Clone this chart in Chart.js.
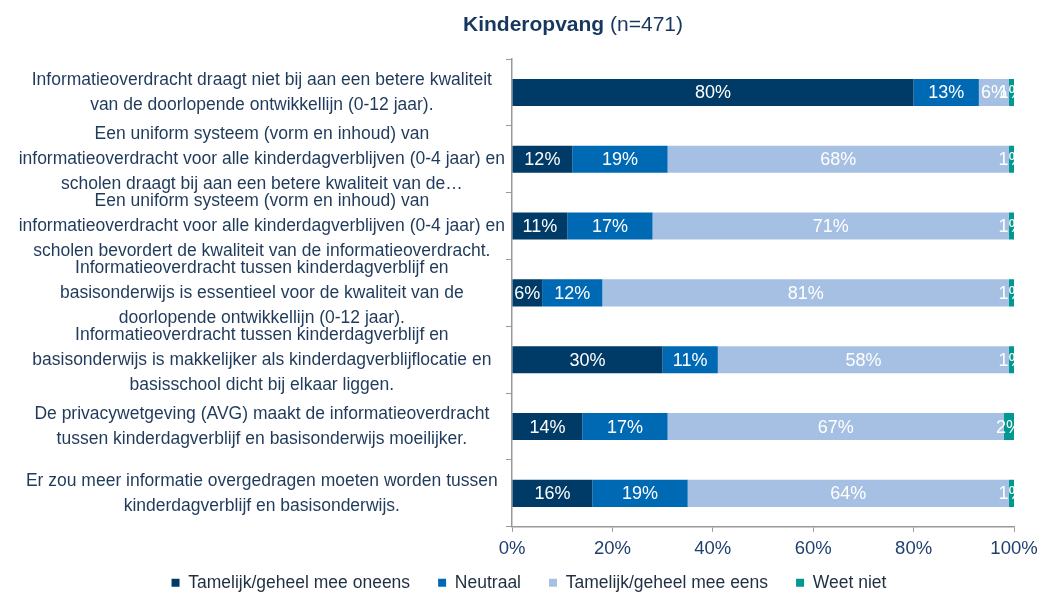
<!DOCTYPE html>
<html>
<head>
<meta charset="utf-8">
<script src="https://cdn.jsdelivr.net/npm/chart.js@4"></script>
<style>
  html, body { margin: 0; padding: 0; background: #fff; overflow: hidden; }
  #wrap { width: 1039px; height: 592px; position: relative; }
</style>
</head>
<body>
<div id="wrap"><canvas id="chart" width="1039" height="592"></canvas></div>
<script>
// categories (statements)
var categories = [
    ['Informatieoverdracht draagt niet bij aan een betere kwaliteit', 'van de doorlopende ontwikkellijn (0-12 jaar).'],
    ['Een uniform systeem (vorm en inhoud) van', 'informatieoverdracht voor alle kinderdagverblijven (0-4 jaar) en', 'scholen draagt bij aan een betere kwaliteit van de\u2026'],
    ['Een uniform systeem (vorm en inhoud) van', 'informatieoverdracht voor alle kinderdagverblijven (0-4 jaar) en', 'scholen bevordert de kwaliteit van de informatieoverdracht.'],
    ['Informatieoverdracht tussen kinderdagverblijf en', 'basisonderwijs is essentieel voor de kwaliteit van de', 'doorlopende ontwikkellijn (0-12 jaar).'],
    ['Informatieoverdracht tussen kinderdagverblijf en', 'basisonderwijs is makkelijker als kinderdagverblijflocatie en', 'basisschool dicht bij elkaar liggen.'],
    ['De privacywetgeving (AVG) maakt de informatieoverdracht', 'tussen kinderdagverblijf en basisonderwijs moeilijker.'],
    ['Er zou meer informatie overgedragen moeten worden tussen', 'kinderdagverblijf en basisonderwijs.']
];

// series values (%)
var oneens = [80, 12, 11, 6, 30, 14, 16];
var neutraal = [13, 19, 17, 12, 11, 17, 19];
var eens = [6, 68, 71, 81, 58, 67, 64];
var weetNiet = [1, 1, 1, 1, 1, 2, 1];

var seriesNames = ['Tamelijk/geheel mee oneens', 'Neutraal', 'Tamelijk/geheel mee eens', 'Weet niet'];
var xTicks = [0, 20, 40, 60, 80, 100];

var FONT = '"Liberation Sans", Arial, sans-serif';

// white value labels centred in each segment, clipped to the plot area
var barLabels = {
    id: 'barLabels',
    afterDatasetsDraw: function (chart) {
        var ctx = chart.ctx;
        var area = chart.chartArea;
        ctx.save();
        ctx.beginPath();
        ctx.rect(area.left, area.top, area.right - area.left, area.bottom - area.top);
        ctx.clip();
        ctx.fillStyle = '#ffffff';
        ctx.font = '18px ' + FONT;
        ctx.textAlign = 'center';
        ctx.textBaseline = 'middle';
        chart.data.datasets.forEach(function (ds, i) {
            var meta = chart.getDatasetMeta(i);
            meta.data.forEach(function (bar, j) {
                var cx = (bar.x + bar.base) / 2;
                ctx.fillText(ds.data[j] + '%', cx, bar.y + 1);
            });
        });
        ctx.restore();
    }
};

// two-part title: bold name + normal count
var titlePlugin = {
    id: 'titlePlugin',
    afterDraw: function (chart) {
        var ctx = chart.ctx;
        ctx.save();
        ctx.fillStyle = '#17375e';
        ctx.textBaseline = 'middle';
        var bold = 'bold 21px ' + FONT;
        var normal = '21px ' + FONT;
        ctx.font = bold;
        var w1 = ctx.measureText('Kinderopvang').width;
        ctx.font = normal;
        var w2 = ctx.measureText(' (n=471)').width;
        var x = 573 - (w1 + w2) / 2;
        ctx.font = bold;
        ctx.textAlign = 'left';
        ctx.fillText('Kinderopvang', x, 25);
        ctx.font = normal;
        ctx.fillText(' (n=471)', x + w1, 25);
        ctx.restore();
    }
};

// nudge the legend row up and a bit to the right (bottom kept so nothing is clipped)
var legendShift = {
    id: 'legendShift',
    afterLayout: function (chart) {
        chart.legend.top -= 20;
        chart.legend.left += 22;
        chart.legend.right += 22;
    }
};

var ctx = document.getElementById('chart').getContext('2d');
new Chart(ctx, {
    type: 'bar',
    data: {
        labels: categories,
        datasets: [
            { label: seriesNames[0], data: oneens, backgroundColor: '#003a66' },
            { label: seriesNames[1], data: neutraal, backgroundColor: '#0069b4' },
            { label: seriesNames[2], data: eens, backgroundColor: '#a6c0e3' },
            { label: seriesNames[3], data: weetNiet, backgroundColor: '#009890' }
        ]
    },
    options: {
        indexAxis: 'y',
        responsive: false,
        animation: false,
        layout: { padding: { top: 59, right: 25, left: 0, bottom: 0 } },
        datasets: { bar: { barPercentage: 0.405, categoryPercentage: 1.0, borderWidth: 0 } },
        scales: {
            x: {
                stacked: true,
                min: 0,
                max: 100,
                afterBuildTicks: function (scale) {
                    scale.ticks = xTicks.map(function (v) { return { value: v }; });
                },
                afterFit: function (scale) { scale.paddingRight = 0; },
                ticks: {
                    color: '#1f3f6f',
                    font: { family: FONT, size: 18.5 },
                    padding: 6,
                    maxRotation: 0,
                    callback: function (v) { return v + '%'; }
                },
                grid: { drawOnChartArea: false, drawTicks: true, tickLength: 5, tickColor: '#999' },
                border: { color: '#999', width: 1.5 }
            },
            y: {
                stacked: true,
                afterFit: function (scale) { scale.width = 512; },
                ticks: {
                    autoSkip: false,
                    crossAlign: 'center',
                    padding: 1,
                    color: '#1f3a5a',
                    font: { family: FONT, size: 17.5, lineHeight: 1.43 }
                },
                grid: { offset: true, drawOnChartArea: false, drawTicks: true, tickLength: 6, tickColor: '#999' },
                border: { color: '#999', width: 1.5 }
            }
        },
        plugins: {
            legend: {
                position: 'bottom',
                maxHeight: 26,
                labels: {
                    boxWidth: 8,
                    boxHeight: 8,
                    padding: 28,
                    color: '#1f2f40',
                    font: { family: FONT, size: 17.5 }
                }
            },
            tooltip: { enabled: false },
            title: { display: false }
        }
    },
    plugins: [barLabels, titlePlugin, legendShift]
});
</script>
</body>
</html>
